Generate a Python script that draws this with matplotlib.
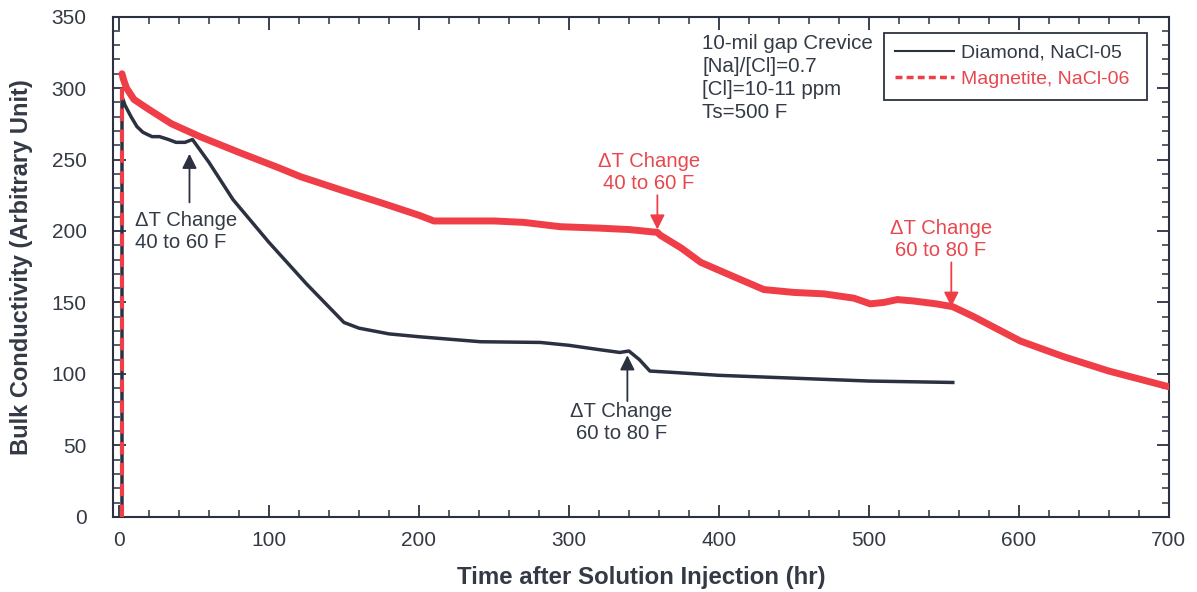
import numpy as np
import matplotlib
import matplotlib.pyplot as plt
from matplotlib.lines import Line2D
from matplotlib.ticker import MultipleLocator

matplotlib.use('Agg')
plt.rcParams['font.family'] = ['Liberation Sans', 'DejaVu Sans']

# magnetite run (red)
red_t = [2, 2, 3, 5, 10, 20, 35, 54, 80, 107, 121, 150, 174, 200, 210, 230, 250,
         270, 294, 320, 340, 359, 361, 375, 388, 410, 430, 450, 470, 490, 501, 510,
         519, 530, 545, 556, 570, 601, 630, 660, 700]
red_v = [0, 310, 306, 300, 292, 285, 275, 266, 255, 244, 238, 228, 220, 211, 207, 207, 207,
         206, 203, 202, 201, 199, 197, 188, 178, 168, 159, 157, 156, 153, 149, 150,
         152, 151, 149, 147, 140, 123, 112, 102, 91]

# diamond run (dark)
blk_t = [2, 2, 4, 8, 12, 16, 22, 27, 33, 38, 44, 49, 60, 76, 100, 125, 150, 160,
         180, 200, 241, 281, 300, 320, 334, 340, 347, 354, 370, 400, 450, 500, 556]
blk_v = [0, 294, 288, 280, 273, 269, 266, 266, 264, 262, 262, 264, 248, 222, 192, 163,
         136, 132, 128, 126, 122.5, 122, 120, 117, 115, 116, 110, 102, 101, 99, 97, 95, 94]

dark = '#2b3140'
txt_dark = '#333a45'
red = '#ef3e47'
txt_red = '#e8474f'

fig = plt.figure(figsize=(11.97, 5.92), dpi=100)
ax = fig.add_axes([0.0944, 0.127, 0.882, 0.845])

ax.plot(blk_t, blk_v, color=dark, lw=2.5, zorder=3)
ax.plot(red_t[:2], red_v[:2], color=red, lw=3, ls=(0, (3, 2)), zorder=4)
ax.plot(red_t[1:], red_v[1:], color=red, lw=5, solid_capstyle='round', zorder=4)

ax.set_xlim(-4, 700)
ax.set_ylim(0, 350)
ax.xaxis.set_major_locator(MultipleLocator(100))
ax.xaxis.set_minor_locator(MultipleLocator(20))
ax.yaxis.set_major_locator(MultipleLocator(50))
ax.yaxis.set_minor_locator(MultipleLocator(10))
ax.tick_params(which='both', direction='in', top=True, right=True, colors=dark,
               labelcolor=txt_dark, labelsize=15)
ax.tick_params(which='major', length=9, width=1.3)
ax.tick_params(which='minor', length=5, width=1.1)
ax.tick_params(axis='x', pad=10)
ax.tick_params(axis='y', pad=19)
for s in ax.spines.values():
    s.set_color(dark)
    s.set_linewidth(1.5)

ax.set_xlabel('Time after Solution Injection (hr)', fontsize=17.3, fontweight='bold',
              color=txt_dark, labelpad=12)
ax.set_ylabel('Bulk Conductivity (Arbitrary Unit)', fontsize=17, fontweight='bold',
              color=txt_dark, labelpad=13)

arr = dict(arrowstyle='-|>', mutation_scale=22, lw=1.3, shrinkA=0, shrinkB=0)
box = dict(facecolor='white', edgecolor='none', pad=1)
fs = 14.6
ls = 1.22

# black annotations
ax.annotate('', xy=(47, 254), xytext=(47, 220), arrowprops=dict(arr, color=dark))
ax.text(11, 214, '\u0394T Change\n40 to 60 F', fontsize=fs, color=txt_dark,
        va='top', ha='left', linespacing=ls, bbox=box, zorder=5)
ax.annotate('', xy=(339, 113), xytext=(339, 81), arrowprops=dict(arr, color=dark))
ax.text(335, 80.5, '\u0394T Change\n60 to 80 F', fontsize=fs, color=txt_dark,
        va='top', ha='center', linespacing=ls, zorder=5)

# red annotations
ax.text(353.5, 255.5, '\u0394T Change\n40 to 60 F', fontsize=fs, color=txt_red,
        va='top', ha='center', linespacing=ls, zorder=5)
ax.annotate('', xy=(359, 201), xytext=(359, 225), arrowprops=dict(arr, color=red))
ax.text(548, 208.6, '\u0394T Change\n60 to 80 F', fontsize=fs, color=txt_red,
        va='top', ha='center', linespacing=ls, zorder=5)
ax.annotate('', xy=(555, 147), xytext=(555, 178), arrowprops=dict(arr, color=red))

ax.text(389, 338, '10-mil gap Crevice\n[Na]/[Cl]=0.7\n[Cl]=10-11 ppm\nTs=500 F',
        fontsize=14.8, color=txt_dark, va='top', ha='left', linespacing=1.28)

handles = [Line2D([], [], color=dark, lw=1.5),
           Line2D([], [], color=red, lw=2.5, ls=(0, (2, 1.2)))]
leg = ax.legend(handles, ['Diamond, NaCl-05', 'Magnetite, NaCl-06 '],
                loc='upper left', bbox_to_anchor=(0.730, 0.968), borderaxespad=0,
                fontsize=14, frameon=True, fancybox=False, framealpha=1,
                edgecolor=dark, handlelength=3, handletextpad=0.4, borderpad=0.6,
                labelspacing=0.45)
leg.get_frame().set_linewidth(1.3)
leg.get_texts()[0].set_color(txt_dark)
leg.get_texts()[1].set_color(txt_red)

fig.savefig('out.png', dpi=100)
